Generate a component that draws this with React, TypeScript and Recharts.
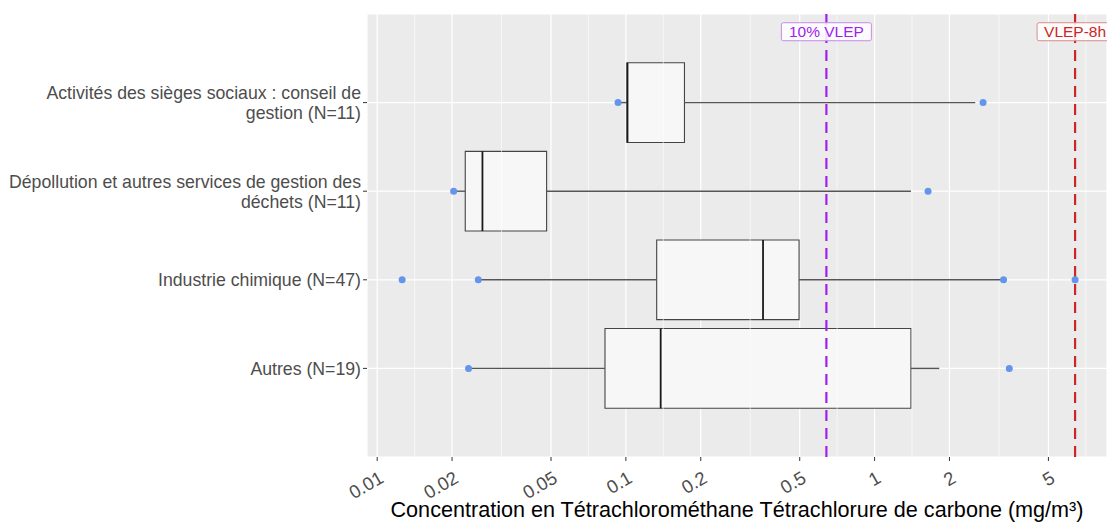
import {
  ScatterChart,
  Scatter,
  XAxis,
  YAxis,
  CartesianGrid,
  ReferenceLine,
  ReferenceArea,
  ReferenceDot,
} from 'recharts';

// categories (top to bottom) and their position on the numeric y axis
const categoryLines = [
  ['Activités des sièges sociaux : conseil de', 'gestion (N=11)'],
  ['Dépollution et autres services de gestion des', 'déchets (N=11)'],
  ['Industrie chimique (N=47)'],
  ['Autres (N=19)'],
];
const categoryPos = [4, 3, 2, 1];

// box statistics (mg/m³)
const whiskerLow = [0.093, 0.0203, 0.0255, 0.0233];
const q1 = [0.101, 0.0226, 0.133, 0.0824];
const median = [0.1015, 0.0265, 0.356, 0.138];
const q3 = [0.172, 0.048, 0.497, 1.4];
const whiskerHigh = [2.54, 1.4, 3.3, 1.82];

// blue points per category
const pointValues = [
  [0.093, 2.73],
  [0.0203, 1.64],
  [0.0126, 0.0255, 3.3, 6.4],
  [0.0233, 3.48],
];

// axis
const xTicks = [0.01, 0.02, 0.05, 0.1, 0.2, 0.5, 1, 2, 5];
const xMinor = [0.01414, 0.03162, 0.07071, 0.1414, 0.3162, 0.7071, 1.414, 3.162, 7.071];

// limits
const vlep10 = 0.64;
const vlep8h = 6.4;

const FONT = '"Liberation Sans", Arial, sans-serif';
const HALF = 0.45;

const points = pointValues.flatMap((vals, i) => vals.map((v) => ({ x: v, y: categoryPos[i] })));

const YTick = (props: any) => {
  const { x, y, payload } = props;
  const idx = categoryPos.indexOf(payload.value);
  const lines = idx >= 0 ? categoryLines[idx] : [];
  const lh = 20;
  const start = y - ((lines.length - 1) * lh) / 2;
  return (
    <text x={x} y={start} textAnchor="end" fill="#4D4D4D" fontSize={17.7} fontFamily={FONT}>
      {lines.map((l, i) => (
        <tspan key={i} x={x} y={start + i * lh} dy="0.36em">
          {l}
        </tspan>
      ))}
    </text>
  );
};

const XTick = (props: any) => {
  const { x, y, payload } = props;
  const px = x + 1;
  const py = y + 7;
  return (
    <text
      x={px}
      y={py}
      textAnchor="end"
      fill="#4D4D4D"
      fontSize={18.5}
      fontFamily={FONT}
      transform={`rotate(-30, ${px}, ${py})`}
      dy="0.72em"
    >
      {payload.value}
    </text>
  );
};

const makeLabel = (text: string, color: string, border: string, w: number) => (props: any) => {
  const { cx, cy } = props;
  return (
    <g>
      <rect x={cx - w / 2} y={cy - 9} width={w} height={18} rx={2} fill="#FFFFFF" fillOpacity={0.85} stroke={border} strokeWidth={1} />
      <text x={cx} y={cy} dy="0.36em" textAnchor="middle" fill={color} fontSize={15.5} fontFamily={FONT}>
        {text}
      </text>
    </g>
  );
};

const Dot = (props: any) => <circle cx={props.cx} cy={props.cy} r={3.5} fill="#6495ED" />;

export default function App() {
  return (
    <div style={{ width: 1107, height: 525, background: '#FFFFFF', fontFamily: FONT }}>
      <style>{'body{margin:0}'}</style>
      <ScatterChart width={1107} height={525} margin={{ top: 14, right: 0, bottom: 0, left: 0 }}>
        <CartesianGrid fill="#EBEBEB" stroke="#FFFFFF" strokeWidth={1.2} />
        {xMinor.map((v) => (
          <ReferenceLine key={`m-${v}`} x={v} stroke="#FFFFFF" strokeWidth={0.6} />
        ))}
        <XAxis
          type="number"
          dataKey="x"
          scale="log"
          domain={[0.0091, 8.6]}
          allowDataOverflow
          ticks={xTicks}
          tick={<XTick />}
          tickSize={4}
          tickLine={{ stroke: '#333333' }}
          axisLine={false}
          height={68}
          label={{
            value: 'Concentration en Tétrachlorométhane Tétrachlorure de carbone (mg/m³)',
            position: 'insideBottom',
            offset: 8,
            fill: '#000000',
            fontSize: 21.6,
            fontFamily: FONT,
          }}
        />
        <YAxis
          type="number"
          dataKey="y"
          domain={[0, 5]}
          ticks={categoryPos}
          tick={<YTick />}
          tickSize={4}
          tickLine={{ stroke: '#333333' }}
          axisLine={false}
          width={367}
        />
        {categoryPos.map((p, i) => (
          <ReferenceLine
            key={`wl-${i}`}
            segment={[
              { x: whiskerLow[i], y: p },
              { x: q1[i], y: p },
            ]}
            stroke="#555555"
            strokeWidth={1.4}
          />
        ))}
        {categoryPos.map((p, i) => (
          <ReferenceLine
            key={`wh-${i}`}
            segment={[
              { x: q3[i], y: p },
              { x: whiskerHigh[i], y: p },
            ]}
            stroke="#555555"
            strokeWidth={1.4}
          />
        ))}
        {categoryPos.map((p, i) => (
          <ReferenceArea
            key={`box-${i}`}
            x1={q1[i]}
            x2={q3[i]}
            y1={p - HALF}
            y2={p + HALF}
            fill="#F7F7F7"
            fillOpacity={1}
            stroke="#444444"
            strokeWidth={1.1}
          />
        ))}
        {categoryPos.map((p, i) => (
          <ReferenceLine
            key={`med-${i}`}
            segment={[
              { x: median[i], y: p - HALF },
              { x: median[i], y: p + HALF },
            ]}
            stroke="#1A1A1A"
            strokeWidth={1.8}
          />
        ))}
        <Scatter data={points} shape={<Dot />} isAnimationActive={false} />
        <ReferenceLine x={vlep10} stroke="#A020F0" strokeWidth={2.2} strokeDasharray="11 7" />
        <ReferenceLine x={vlep8h} stroke="#CD2626" strokeWidth={2.2} strokeDasharray="11 7" />
        <ReferenceDot x={vlep10} y={4.8} r={1} shape={makeLabel('10% VLEP', '#A020F0', '#C58AF0', 90)} />
        <ReferenceDot x={vlep8h} y={4.8} r={1} shape={makeLabel('VLEP-8h', '#CD2626', '#E08A8A', 76)} />
      </ScatterChart>
    </div>
  );
}
